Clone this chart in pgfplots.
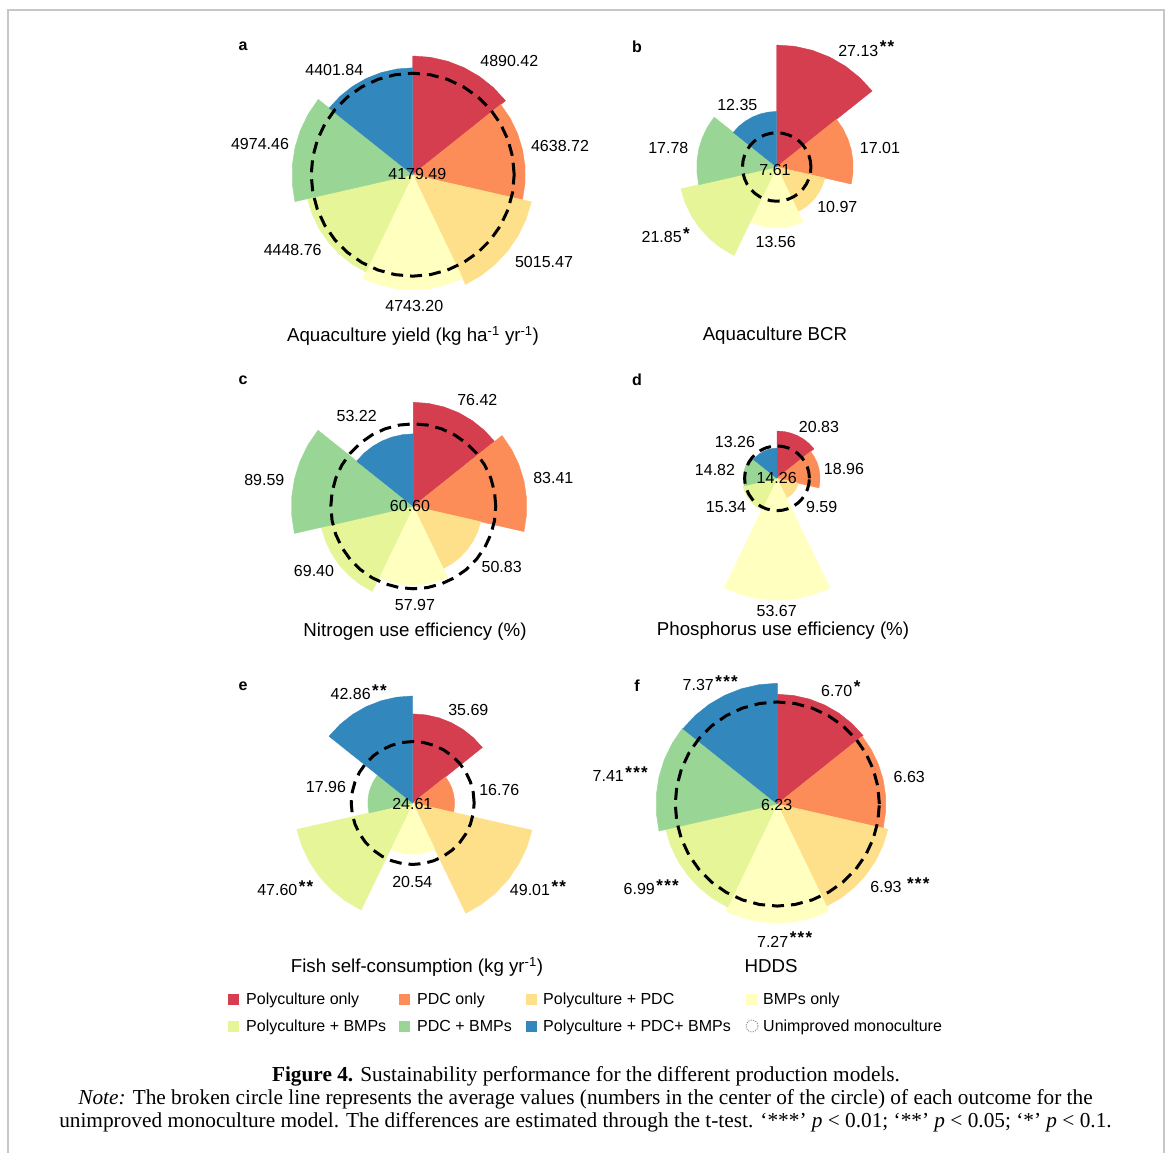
\documentclass[border=0pt]{standalone}
\usepackage{pgfplots}
\pgfplotsset{compat=1.18}
\usepackage{fontspec}
\setmainfont{Liberation Sans}
\newfontfamily\capfont{Liberation Serif}
\definecolor{cA}{HTML}{D53E4F}
\definecolor{cB}{HTML}{FC8D59}
\definecolor{cC}{HTML}{FEE08B}
\definecolor{cD}{HTML}{FFFFBF}
\definecolor{cE}{HTML}{E6F598}
\definecolor{cF}{HTML}{99D594}
\definecolor{cG}{HTML}{3288BD}
\pgfplotsset{
  rose/.style={hide axis, clip=false, anchor=center, data cs=polar,
    xmin=-#1, xmax=#1, ymin=-#1, ymax=#1},
  sec/.style={fill=#1, draw=#1, line width=0.4pt, line join=round},
  refc/.style={black, line width=3pt, dash pattern=on 12pt off 7pt},
}
\newcommand\stt{*\kern1.3pt}
\newcommand\stars[1]{\rlap{\smash{\kern1.5pt\raisebox{3.3pt}{\fontsize{17}{17}\selectfont\bfseries #1}}}}
\begin{document}
\begin{tikzpicture}[x=1pt,y=1pt,
  vlab/.style={inner sep=0pt, font=\fontsize{16}{19}\selectfont},
  ttl/.style={inner sep=0pt, anchor=base, font=\fontsize{18.7}{22}\selectfont},
  plet/.style={inner sep=0pt, font=\fontsize{16}{19}\selectfont\bfseries},
  legt/.style={inner sep=0pt, anchor=base west, font=\fontsize{16}{19}\selectfont},
  capt/.style={inner sep=0pt, anchor=base, font=\fontsize{21.3}{24}\capfont}]
\fill[white] (0,0) rectangle (1167,-1153);
\useasboundingbox (0,0) rectangle (1167,-1153);
\draw[black!22, line width=2pt] (8,-1153) -- (8,-10) -- (1163.5,-10) -- (1163.5,-1153);
\coordinate (pa) at (412.7,-174.7);
\coordinate (pb) at (776.7,-167);
\coordinate (pc) at (413.3,-506.3);
\coordinate (pd) at (777,-478.3);
\coordinate (pe) at (412.7,-803);
\coordinate (pf) at (777.3,-804);

% ---------------- panel a
\begin{axis}[rose=6000, x=0.02427pt, y=0.02427pt, at={(pa)}]
\addplot[sec=cA] coordinates {(0,0) (90,4890.42) (81.43,4890.42) (72.86,4890.42) (64.29,4890.42) (55.71,4890.42) (47.14,4890.42) (38.57,4890.42) (0,0)};
\addplot[sec=cB] coordinates {(0,0) (38.57,4638.72) (30,4638.72) (21.43,4638.72) (12.86,4638.72) (4.29,4638.72) (-4.29,4638.72) (-12.86,4638.72) (0,0)};
\addplot[sec=cC] coordinates {(0,0) (-12.86,5015.47) (-21.43,5015.47) (-30,5015.47) (-38.57,5015.47) (-47.14,5015.47) (-55.71,5015.47) (-64.29,5015.47) (0,0)};
\addplot[sec=cD] coordinates {(0,0) (-64.29,4743.20) (-72.86,4743.20) (-81.43,4743.20) (-90,4743.20) (-98.57,4743.20) (-107.14,4743.20) (-115.71,4743.20) (0,0)};
\addplot[sec=cE] coordinates {(0,0) (-115.71,4448.76) (-124.29,4448.76) (-132.86,4448.76) (-141.43,4448.76) (-150,4448.76) (-158.57,4448.76) (-167.14,4448.76) (0,0)};
\addplot[sec=cF] coordinates {(0,0) (-167.14,4974.46) (-175.71,4974.46) (-184.29,4974.46) (-192.86,4974.46) (-201.43,4974.46) (-210,4974.46) (-218.57,4974.46) (0,0)};
\addplot[sec=cG] coordinates {(0,0) (-218.57,4401.84) (-227.14,4401.84) (-235.71,4401.84) (-244.29,4401.84) (-252.86,4401.84) (-261.43,4401.84) (-270,4401.84) (0,0)};
\addplot[refc] coordinates {(0,4179.49) (10,4179.49) (20,4179.49) (30,4179.49) (40,4179.49) (50,4179.49) (60,4179.49) (70,4179.49) (80,4179.49) (90,4179.49) (100,4179.49) (110,4179.49) (120,4179.49) (130,4179.49) (140,4179.49) (150,4179.49) (160,4179.49) (170,4179.49) (180,4179.49) (190,4179.49) (200,4179.49) (210,4179.49) (220,4179.49) (230,4179.49) (240,4179.49) (250,4179.49) (260,4179.49) (270,4179.49) (280,4179.49) (290,4179.49) (300,4179.49) (310,4179.49) (320,4179.49) (330,4179.49) (340,4179.49) (350,4179.49) (360,4179.49)};
\end{axis}

% ---------------- panel b
\begin{axis}[rose=30, x=4.497pt, y=4.497pt, at={(pb)}]
\addplot[sec=cA] coordinates {(0,0) (90,27.13) (81.43,27.13) (72.86,27.13) (64.29,27.13) (55.71,27.13) (47.14,27.13) (38.57,27.13) (0,0)};
\addplot[sec=cB] coordinates {(0,0) (38.57,17.01) (30,17.01) (21.43,17.01) (12.86,17.01) (4.29,17.01) (-4.29,17.01) (-12.86,17.01) (0,0)};
\addplot[sec=cC] coordinates {(0,0) (-12.86,10.97) (-21.43,10.97) (-30,10.97) (-38.57,10.97) (-47.14,10.97) (-55.71,10.97) (-64.29,10.97) (0,0)};
\addplot[sec=cD] coordinates {(0,0) (-64.29,13.56) (-72.86,13.56) (-81.43,13.56) (-90,13.56) (-98.57,13.56) (-107.14,13.56) (-115.71,13.56) (0,0)};
\addplot[sec=cE] coordinates {(0,0) (-115.71,21.85) (-124.29,21.85) (-132.86,21.85) (-141.43,21.85) (-150,21.85) (-158.57,21.85) (-167.14,21.85) (0,0)};
\addplot[sec=cF] coordinates {(0,0) (-167.14,17.78) (-175.71,17.78) (-184.29,17.78) (-192.86,17.78) (-201.43,17.78) (-210,17.78) (-218.57,17.78) (0,0)};
\addplot[sec=cG] coordinates {(0,0) (-218.57,12.35) (-227.14,12.35) (-235.71,12.35) (-244.29,12.35) (-252.86,12.35) (-261.43,12.35) (-270,12.35) (0,0)};
\addplot[refc] coordinates {(0,7.61) (10,7.61) (20,7.61) (30,7.61) (40,7.61) (50,7.61) (60,7.61) (70,7.61) (80,7.61) (90,7.61) (100,7.61) (110,7.61) (120,7.61) (130,7.61) (140,7.61) (150,7.61) (160,7.61) (170,7.61) (180,7.61) (190,7.61) (200,7.61) (210,7.61) (220,7.61) (230,7.61) (240,7.61) (250,7.61) (260,7.61) (270,7.61) (280,7.61) (290,7.61) (300,7.61) (310,7.61) (320,7.61) (330,7.61) (340,7.61) (350,7.61) (360,7.61)};
\end{axis}

% ---------------- panel c
\begin{axis}[rose=100, x=1.361pt, y=1.361pt, at={(pc)}]
\addplot[sec=cA] coordinates {(0,0) (90,76.42) (81.43,76.42) (72.86,76.42) (64.29,76.42) (55.71,76.42) (47.14,76.42) (38.57,76.42) (0,0)};
\addplot[sec=cB] coordinates {(0,0) (38.57,83.41) (30,83.41) (21.43,83.41) (12.86,83.41) (4.29,83.41) (-4.29,83.41) (-12.86,83.41) (0,0)};
\addplot[sec=cC] coordinates {(0,0) (-12.86,50.83) (-21.43,50.83) (-30,50.83) (-38.57,50.83) (-47.14,50.83) (-55.71,50.83) (-64.29,50.83) (0,0)};
\addplot[sec=cD] coordinates {(0,0) (-64.29,57.97) (-72.86,57.97) (-81.43,57.97) (-90,57.97) (-98.57,57.97) (-107.14,57.97) (-115.71,57.97) (0,0)};
\addplot[sec=cE] coordinates {(0,0) (-115.71,69.40) (-124.29,69.40) (-132.86,69.40) (-141.43,69.40) (-150,69.40) (-158.57,69.40) (-167.14,69.40) (0,0)};
\addplot[sec=cF] coordinates {(0,0) (-167.14,89.59) (-175.71,89.59) (-184.29,89.59) (-192.86,89.59) (-201.43,89.59) (-210,89.59) (-218.57,89.59) (0,0)};
\addplot[sec=cG] coordinates {(0,0) (-218.57,53.22) (-227.14,53.22) (-235.71,53.22) (-244.29,53.22) (-252.86,53.22) (-261.43,53.22) (-270,53.22) (0,0)};
\addplot[refc] coordinates {(0,60.60) (10,60.60) (20,60.60) (30,60.60) (40,60.60) (50,60.60) (60,60.60) (70,60.60) (80,60.60) (90,60.60) (100,60.60) (110,60.60) (120,60.60) (130,60.60) (140,60.60) (150,60.60) (160,60.60) (170,60.60) (180,60.60) (190,60.60) (200,60.60) (210,60.60) (220,60.60) (230,60.60) (240,60.60) (250,60.60) (260,60.60) (270,60.60) (280,60.60) (290,60.60) (300,60.60) (310,60.60) (320,60.60) (330,60.60) (340,60.60) (350,60.60) (360,60.60)};
\end{axis}

% ---------------- panel d
\begin{axis}[rose=60, x=2.27pt, y=2.27pt, at={(pd)}]
\addplot[sec=cA] coordinates {(0,0) (90,20.83) (81.43,20.83) (72.86,20.83) (64.29,20.83) (55.71,20.83) (47.14,20.83) (38.57,20.83) (0,0)};
\addplot[sec=cB] coordinates {(0,0) (38.57,18.96) (30,18.96) (21.43,18.96) (12.86,18.96) (4.29,18.96) (-4.29,18.96) (-12.86,18.96) (0,0)};
\addplot[sec=cC] coordinates {(0,0) (-12.86,9.59) (-21.43,9.59) (-30,9.59) (-38.57,9.59) (-47.14,9.59) (-55.71,9.59) (-64.29,9.59) (0,0)};
\addplot[sec=cD] coordinates {(0,0) (-64.29,53.67) (-72.86,53.67) (-81.43,53.67) (-90,53.67) (-98.57,53.67) (-107.14,53.67) (-115.71,53.67) (0,0)};
\addplot[sec=cE] coordinates {(0,0) (-115.71,15.34) (-124.29,15.34) (-132.86,15.34) (-141.43,15.34) (-150,15.34) (-158.57,15.34) (-167.14,15.34) (0,0)};
\addplot[sec=cF] coordinates {(0,0) (-167.14,14.82) (-175.71,14.82) (-184.29,14.82) (-192.86,14.82) (-201.43,14.82) (-210,14.82) (-218.57,14.82) (0,0)};
\addplot[sec=cG] coordinates {(0,0) (-218.57,13.26) (-227.14,13.26) (-235.71,13.26) (-244.29,13.26) (-252.86,13.26) (-261.43,13.26) (-270,13.26) (0,0)};
\addplot[refc] coordinates {(0,14.26) (10,14.26) (20,14.26) (30,14.26) (40,14.26) (50,14.26) (60,14.26) (70,14.26) (80,14.26) (90,14.26) (100,14.26) (110,14.26) (120,14.26) (130,14.26) (140,14.26) (150,14.26) (160,14.26) (170,14.26) (180,14.26) (190,14.26) (200,14.26) (210,14.26) (220,14.26) (230,14.26) (240,14.26) (250,14.26) (260,14.26) (270,14.26) (280,14.26) (290,14.26) (300,14.26) (310,14.26) (320,14.26) (330,14.26) (340,14.26) (350,14.26) (360,14.26)};
\end{axis}

% ---------------- panel e
\begin{axis}[rose=55, x=2.497pt, y=2.497pt, at={(pe)}]
\addplot[sec=cA] coordinates {(0,0) (90,35.69) (81.43,35.69) (72.86,35.69) (64.29,35.69) (55.71,35.69) (47.14,35.69) (38.57,35.69) (0,0)};
\addplot[sec=cB] coordinates {(0,0) (38.57,16.76) (30,16.76) (21.43,16.76) (12.86,16.76) (4.29,16.76) (-4.29,16.76) (-12.86,16.76) (0,0)};
\addplot[sec=cC] coordinates {(0,0) (-12.86,49.01) (-21.43,49.01) (-30,49.01) (-38.57,49.01) (-47.14,49.01) (-55.71,49.01) (-64.29,49.01) (0,0)};
\addplot[sec=cD] coordinates {(0,0) (-64.29,20.54) (-72.86,20.54) (-81.43,20.54) (-90,20.54) (-98.57,20.54) (-107.14,20.54) (-115.71,20.54) (0,0)};
\addplot[sec=cE] coordinates {(0,0) (-115.71,47.60) (-124.29,47.60) (-132.86,47.60) (-141.43,47.60) (-150,47.60) (-158.57,47.60) (-167.14,47.60) (0,0)};
\addplot[sec=cF] coordinates {(0,0) (-167.14,17.96) (-175.71,17.96) (-184.29,17.96) (-192.86,17.96) (-201.43,17.96) (-210,17.96) (-218.57,17.96) (0,0)};
\addplot[sec=cG] coordinates {(0,0) (-218.57,42.86) (-227.14,42.86) (-235.71,42.86) (-244.29,42.86) (-252.86,42.86) (-261.43,42.86) (-270,42.86) (0,0)};
\addplot[refc] coordinates {(0,24.61) (10,24.61) (20,24.61) (30,24.61) (40,24.61) (50,24.61) (60,24.61) (70,24.61) (80,24.61) (90,24.61) (100,24.61) (110,24.61) (120,24.61) (130,24.61) (140,24.61) (150,24.61) (160,24.61) (170,24.61) (180,24.61) (190,24.61) (200,24.61) (210,24.61) (220,24.61) (230,24.61) (240,24.61) (250,24.61) (260,24.61) (270,24.61) (280,24.61) (290,24.61) (300,24.61) (310,24.61) (320,24.61) (330,24.61) (340,24.61) (350,24.61) (360,24.61)};
\end{axis}

% ---------------- panel f
\begin{axis}[rose=8.5, x=16.38pt, y=16.38pt, at={(pf)}]
\addplot[sec=cA] coordinates {(0,0) (90,6.70) (81.43,6.70) (72.86,6.70) (64.29,6.70) (55.71,6.70) (47.14,6.70) (38.57,6.70) (0,0)};
\addplot[sec=cB] coordinates {(0,0) (38.57,6.63) (30,6.63) (21.43,6.63) (12.86,6.63) (4.29,6.63) (-4.29,6.63) (-12.86,6.63) (0,0)};
\addplot[sec=cC] coordinates {(0,0) (-12.86,6.93) (-21.43,6.93) (-30,6.93) (-38.57,6.93) (-47.14,6.93) (-55.71,6.93) (-64.29,6.93) (0,0)};
\addplot[sec=cD] coordinates {(0,0) (-64.29,7.27) (-72.86,7.27) (-81.43,7.27) (-90,7.27) (-98.57,7.27) (-107.14,7.27) (-115.71,7.27) (0,0)};
\addplot[sec=cE] coordinates {(0,0) (-115.71,6.99) (-124.29,6.99) (-132.86,6.99) (-141.43,6.99) (-150,6.99) (-158.57,6.99) (-167.14,6.99) (0,0)};
\addplot[sec=cF] coordinates {(0,0) (-167.14,7.41) (-175.71,7.41) (-184.29,7.41) (-192.86,7.41) (-201.43,7.41) (-210,7.41) (-218.57,7.41) (0,0)};
\addplot[sec=cG] coordinates {(0,0) (-218.57,7.37) (-227.14,7.37) (-235.71,7.37) (-244.29,7.37) (-252.86,7.37) (-261.43,7.37) (-270,7.37) (0,0)};
\addplot[refc] coordinates {(0,6.23) (10,6.23) (20,6.23) (30,6.23) (40,6.23) (50,6.23) (60,6.23) (70,6.23) (80,6.23) (90,6.23) (100,6.23) (110,6.23) (120,6.23) (130,6.23) (140,6.23) (150,6.23) (160,6.23) (170,6.23) (180,6.23) (190,6.23) (200,6.23) (210,6.23) (220,6.23) (230,6.23) (240,6.23) (250,6.23) (260,6.23) (270,6.23) (280,6.23) (290,6.23) (300,6.23) (310,6.23) (320,6.23) (330,6.23) (340,6.23) (350,6.23) (360,6.23)};
\end{axis}

% ---------------- value labels
% a
\node[vlab] at (417.3,-174) {4179.49};
\node[vlab] at (509.3,-60.7) {4890.42};
\node[vlab] at (560,-146) {4638.72};
\node[vlab] at (544,-261.7) {5015.47};
\node[vlab] at (414.3,-306) {4743.20};
\node[vlab] at (292.7,-250) {4448.76};
\node[vlab] at (260,-144.3) {4974.46};
\node[vlab] at (334.3,-70) {4401.84};
% b
\node[vlab] at (775,-170) {7.61};
\node[vlab] at (858.3,-50.7) {27.13\stars{\stt\stt}};
\node[vlab] at (880,-148.3) {17.01};
\node[vlab] at (837.3,-207.3) {10.97};
\node[vlab] at (775.7,-241.7) {13.56};
\node[vlab] at (661.7,-237.3) {21.85\stars{\stt}};
\node[vlab] at (668.3,-148.3) {17.78};
\node[vlab] at (737.3,-105) {12.35};
% c
\node[vlab] at (410,-506) {60.60};
\node[vlab] at (477.3,-400) {76.42};
\node[vlab] at (553.3,-478.3) {83.41};
\node[vlab] at (501.7,-567.3) {50.83};
\node[vlab] at (415,-605) {57.97};
\node[vlab] at (314,-571) {69.40};
\node[vlab] at (264.3,-480) {89.59};
\node[vlab] at (356.7,-415.7) {53.22};
% d
\node[vlab] at (776.7,-477.7) {14.26};
\node[vlab] at (819,-426.7) {20.83};
\node[vlab] at (844,-469) {18.96};
\node[vlab] at (821.7,-506.7) {9.59};
\node[vlab] at (776.7,-610.7) {53.67};
\node[vlab] at (726,-506.7) {15.34};
\node[vlab] at (715,-470) {14.82};
\node[vlab] at (735,-441.7) {13.26};
% e
\node[vlab] at (412.3,-804.3) {24.61};
\node[vlab] at (350.7,-694) {42.86\stars{\stt\stt}};
\node[vlab] at (468.3,-710) {35.69};
\node[vlab] at (499.3,-790) {16.76};
\node[vlab] at (530,-890) {49.01\stars{\stt\stt}};
\node[vlab] at (412.3,-882.3) {20.54};
\node[vlab] at (277.3,-890) {47.60\stars{\stt\stt}};
\node[vlab] at (326,-786.7) {17.96};
% f
\node[vlab] at (776.7,-805) {6.23};
\node[vlab] at (698.3,-685) {7.37\stars{\stt\stt\stt}};
\node[vlab] at (836.7,-690.7) {6.70\stars{\stt}};
\node[vlab] at (909.3,-777.3) {6.63};
\node[vlab] at (886,-887.3) {6.93\stars{\kern4pt\stt\stt\stt}};
\node[vlab] at (772.7,-941.7) {7.27\stars{\stt\stt\stt}};
\node[vlab] at (639.3,-889.3) {6.99\stars{\stt\stt\stt}};
\node[vlab] at (608.3,-776) {7.41\stars{\stt\stt\stt}};

% ---------------- panel letters and titles
\node[plet] at (243,-46) {a};
\node[plet] at (637,-47) {b};
\node[plet] at (243,-380) {c};
\node[plet] at (637,-380) {d};
\node[plet] at (243,-686) {e};
\node[plet] at (637,-686) {f};
\node[ttl] at (413,-341.5) {Aquaculture yield (kg ha\textsuperscript{-1} yr\textsuperscript{-1})};
\node[ttl] at (775,-340.5) {Aquaculture BCR};
\node[ttl] at (415,-636.5) {Nitrogen use efficiency (\%)};
\node[ttl] at (783,-635.5) {Phosphorus use efficiency (\%)};
\node[ttl] at (417,-972.5) {Fish self-consumption (kg yr\textsuperscript{-1})};
\node[ttl] at (771,-972.5) {HDDS};

% ---------------- legend
\fill[cA] (228,-993.5) rectangle (239,-1004.5);
\node[legt] at (246,-1004.8) {Polyculture only};
\fill[cB] (398.5,-993.5) rectangle (409.5,-1004.5);
\node[legt] at (417,-1004.8) {PDC only};
\fill[cC] (526,-993.5) rectangle (537,-1004.5);
\node[legt] at (543,-1004.8) {Polyculture + PDC};
\fill[cD] (746,-993.5) rectangle (757,-1004.5);
\node[legt] at (763,-1004.8) {BMPs only};
\fill[cE] (228,-1020.5) rectangle (239,-1031.5);
\node[legt] at (246,-1031.8) {Polyculture + BMPs};
\fill[cF] (398.5,-1020.5) rectangle (409.5,-1031.5);
\node[legt] at (417,-1031.8) {PDC + BMPs};
\fill[cG] (526,-1020.5) rectangle (537,-1031.5);
\node[legt] at (543,-1031.8) {Polyculture + PDC+ BMPs};
\draw[black!55, line width=0.7pt, dash pattern=on 1.2pt off 1.2pt] (752,-1026) circle[radius=6];
\node[legt] at (763,-1031.8) {Unimproved monoculture};

% ---------------- caption
\node[capt] at (586,-1081.5) {\textbf{Figure 4.} Sustainability performance for the different production models.};
\node[capt] at (585.5,-1104.5) {\textit{Note:} The broken circle line represents the average values (numbers in the center of the circle) of each outcome for the};
\node[capt] at (585.5,-1127.5) {unimproved monoculture model. The differences are estimated through the t-test. ‘***’ \textit{p} < 0.01; ‘**’ \textit{p} < 0.05; ‘*’ \textit{p} < 0.1.};
\end{tikzpicture}
\end{document}
